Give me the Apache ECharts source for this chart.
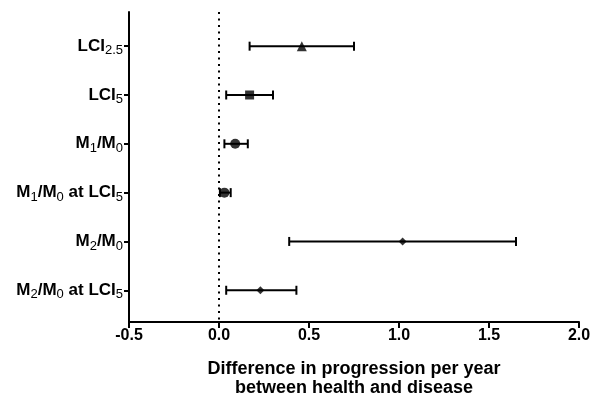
<!DOCTYPE html>
<html>
<head>
<meta charset="utf-8">
<script src="https://cdn.jsdelivr.net/npm/echarts@6/dist/echarts.min.js"></script>
<style>html,body{margin:0;padding:0;background:#fff;}#chart{width:592px;height:400px;}</style>
</head>
<body>
<div id="chart"></div>
<script>
// Data
const categories = ['LCI2.5', 'LCI5', 'M1/M0', 'M1/M0 at LCI5', 'M2/M0', 'M2/M0 at LCI5'];
const categoryLabels = [
  '{b|LCI}{s|2.5}',
  '{b|LCI}{s|5}',
  '{b|M}{s|1}{b|/M}{s|0}',
  '{b|M}{s|1}{b|/M}{s|0}{b| at LCI}{s|5}',
  '{b|M}{s|2}{b|/M}{s|0}',
  '{b|M}{s|2}{b|/M}{s|0}{b| at LCI}{s|5}'
];
const means  = [0.46, 0.17, 0.09, 0.03, 1.02, 0.23];
const lowers = [0.17, 0.04, 0.03, 0.005, 0.39, 0.04];
const uppers = [0.75, 0.30, 0.16, 0.065, 1.65, 0.43];
const xTicks = [-0.5, 0.0, 0.5, 1.0, 1.5, 2.0];
const xTitle = 'Difference in progression per year\nbetween health and disease';

// Styles
const markerShapes = ['triangle', 'rect', 'circle', 'circle', 'diamond', 'diamond'];
const markerSizes = [10, 9, 10, 10, 8, 8];
const FONT = '"Liberation Sans", Arial, Helvetica, sans-serif';

const yIdx = categories.map((c, i) => i + 1);

const chart = echarts.init(document.getElementById('chart'), null, {renderer: 'canvas'});
chart.setOption({
  animation: false,
  backgroundColor: '#fff',
  grid: {left: 129, right: 13, top: 12, bottom: 78, outerBoundsMode: 'none', containLabel: false},
  xAxis: {
    type: 'value',
    min: -0.5, max: 2.0, interval: 0.5,
    axisLine: {onZero: false, lineStyle: {color: '#000', width: 2}},
    axisTick: {length: 6, lineStyle: {color: '#000', width: 2}},
    splitLine: {show: false},
    axisLabel: {
      color: '#000', fontFamily: FONT, fontWeight: 'bold', fontSize: 16, margin: 6,
      formatter: v => { const t = xTicks.find(x => Math.abs(x - v) < 1e-9); return t === undefined ? '' : t.toFixed(1); }
    },
    name: xTitle,
    nameLocation: 'middle',
    nameGap: 38,
    nameTextStyle: {color: '#000', fontFamily: FONT, fontWeight: 'bold', fontSize: 18, lineHeight: 19}
  },
  yAxis: {
    type: 'value',
    inverse: true,
    min: 0.3, max: 6.65,
    axisLine: {show: true, onZero: false, lineStyle: {color: '#000', width: 2}},
    axisTick: {show: true, length: 5, customValues: yIdx, lineStyle: {color: '#000', width: 2}},
    splitLine: {show: false},
    axisLabel: {
      customValues: yIdx,
      margin: 6,
      formatter: v => categoryLabels[Math.round(v) - 1] || '',
      rich: {
        b: {color: '#000', fontFamily: FONT, fontWeight: 'bold', fontSize: 17, lineHeight: 22, verticalAlign: 'middle'},
        s: {color: '#000', fontFamily: FONT, fontSize: 13, lineHeight: 14, padding: [8, 0, 0, 0], verticalAlign: 'bottom'}
      }
    }
  },
  series: [
    {
      type: 'custom',
      name: 'ci',
      data: categories.map((c, i) => [lowers[i], uppers[i], i + 1]),
      encode: {x: [0, 1], y: 2},
      renderItem: function (params, api) {
        const lo = api.coord([api.value(0), api.value(2)]);
        const hi = api.coord([api.value(1), api.value(2)]);
        const h = 4.5;
        const style = {stroke: '#000', lineWidth: 2, fill: null};
        return {
          type: 'group',
          children: [
            {type: 'line', shape: {x1: lo[0], y1: lo[1], x2: hi[0], y2: hi[1]}, style},
            {type: 'line', shape: {x1: lo[0], y1: lo[1] - h, x2: lo[0], y2: lo[1] + h}, style},
            {type: 'line', shape: {x1: hi[0], y1: hi[1] - h, x2: hi[0], y2: hi[1] + h}, style}
          ]
        };
      },
      z: 2
    },
    {
      type: 'scatter',
      name: 'mean',
      data: categories.map((c, i) => ({value: [means[i], i + 1], symbol: markerShapes[i], symbolSize: markerSizes[i]})),
      itemStyle: {color: '#000'},
      z: 3,
      markLine: {
        silent: true,
        symbol: ['none', 'none'],
        label: {show: false},
        lineStyle: {color: '#000', type: [2, 4.5], width: 2},
        data: [{xAxis: 0}]
      }
    }
  ]
});
</script>
</body>
</html>
